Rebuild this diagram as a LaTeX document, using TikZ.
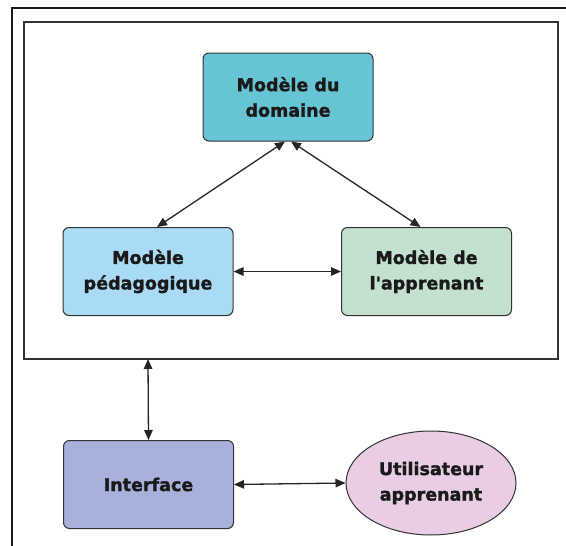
\documentclass[tikz,border=0pt]{standalone}
\usepackage{fontspec}
\newfontfamily\heavyfont{DejaVu Sans Bold}[FakeBold=1.6, Ligatures=TeXOff]
\usetikzlibrary{arrows.meta,shapes.geometric}
\definecolor{domainfill}{HTML}{67C4D4}
\definecolor{pedafill}{HTML}{A9DBF6}
\definecolor{learnfill}{HTML}{C3E1CE}
\definecolor{interfill}{HTML}{A8B0DC}
\definecolor{userfill}{HTML}{E8CDE5}
\definecolor{edgecol}{HTML}{333333}
\definecolor{txtcol}{HTML}{1A1A1A}
\tikzset{
  x=1pt, y=-1pt,
  model/.style={draw=edgecol, line width=1pt, rounded corners=6pt,
    minimum width=170pt, minimum height=88pt, inner sep=0pt,
    align=center, text=txtcol,
    font=\heavyfont\fontsize{17.5}{25.5}\selectfont},
  userbox/.style={ellipse, draw=edgecol, line width=1pt, fill=userfill,
    minimum width=170pt, minimum height=104pt, inner sep=0pt,
    align=center, text=txtcol,
    font=\heavyfont\fontsize{17.5}{25.5}\selectfont},
  link/.style={line width=1.3pt, draw=black!85,
    {Triangle[length=10pt,width=8.5pt]}-{Triangle[length=10pt,width=8.5pt]}},
}
\begin{document}
\begin{tikzpicture}
\useasboundingbox[fill=white] (0,0) rectangle (566,546);
% outer page frame
\draw[line width=2pt, black!90] (12,546) -- (12,8) -- (566,8);
% frame around the three models
\draw[line width=1.6pt, edgecol] (24,22) rectangle (558,359);
\coordinate (framebottom) at (148,359);

\node[model, fill=domainfill] (dom) at (288,97) {Modèle du\\domaine};
\node[model, fill=pedafill] (peda) at (148,271.5) {Modèle\\pédagogique};
\node[model, fill=learnfill] (learn) at (426.5,271.5) {Modèle de\\l'apprenant};
\node[model, fill=interfill] (inter) at (148.5,484.5) {Interface};
\node[userbox] (user) at (431,483) {Utilisateur\\apprenant};

\draw[link] ([xshift=-3pt]dom.south) -- ([xshift=9pt]peda.north);
\draw[link] ([xshift=3pt]dom.south) -- ([xshift=-6pt]learn.north);
\draw[link] (peda.east) -- (learn.west);
\draw[link] (framebottom) -- (inter.north);
\draw[link] (inter.east) -- (user.west);
\end{tikzpicture}
\end{document}
